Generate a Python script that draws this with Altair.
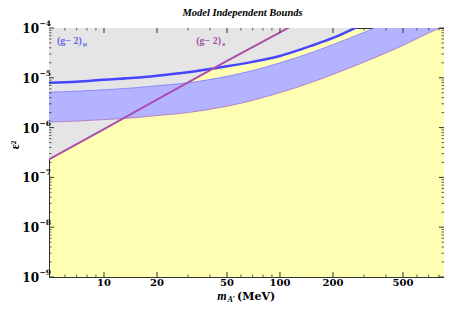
import altair as alt
import pandas as pd

# ---- data ----
m_grid = [4.87, 7, 10, 15, 20, 30, 50, 70, 100, 150, 200, 300, 400, 500, 700, 900]
band_lower = [1.29e-6, 1.35e-6, 1.45e-6, 1.58e-6, 1.74e-6, 2.00e-6, 2.69e-6, 3.52e-6,
              5.04e-6, 8.02e-6, 1.17e-5, 2.06e-5, 3.16e-5, 4.47e-5, 7.94e-5, 1.20e-4]
band_upper = [5.13e-6, 5.37e-6, 5.75e-6, 6.31e-6, 6.92e-6, 7.94e-6, 1.07e-5, 1.40e-5,
              2.00e-5, 3.19e-5, 4.65e-5, 8.18e-5, 1.26e-4, 1.78e-4, 3.16e-4, 4.79e-4]

mu_m = [4.87, 7, 10, 15, 20, 30, 50, 70, 100, 150, 200, 267, 300]
mu_bound = [7.94e-6, 8.32e-6, 9.12e-6, 1.00e-5, 1.10e-5, 1.29e-5, 1.70e-5, 2.09e-5,
            2.75e-5, 4.37e-5, 6.31e-5, 1.00e-4, 1.20e-4]

e_m = [4.87, 10, 20, 50, 100, 120]
e_bound = [2.29e-7, 9.33e-7, 3.63e-6, 2.19e-5, 8.13e-5, 1.17e-4]

y_top = 1e-4  # upper edge of the plotted range (excluded regions extend to it)

x_major = [10, 20, 50, 100, 200, 500]
x_major_labels = ["10", "20", "50", "100", "200", "500"]
x_minor = [6, 7, 8, 9, 30, 40, 60, 70, 80, 90, 300, 400, 600, 700, 800]
y_major = [1e-9, 1e-8, 1e-7, 1e-6, 1e-5, 1e-4]
y_major_exp = ["\u22129", "\u22128", "\u22127", "\u22126", "\u22125", "\u22124"]
y_minor = [k * 10.0 ** p for p in range(-9, -4) for k in range(2, 10)]

ann_m = [5.41, 33.4]
ann_e = [5.5e-5, 5.5e-5]
ann_main = ["(g\u2212 2)", "(g\u2212 2)"]
ann_sub = ["\u03bc", "e"]

# ---- chart ----
W, H = 395, 249
xs = alt.Scale(type="log", domain=[4.87, 855], nice=False)
ys = alt.Scale(type="log", domain=[1e-9, 1e-4], nice=False)


def X(f="m"):
    return alt.X(f"{f}:Q", scale=xs, axis=None)


def Y(f="e"):
    return alt.Y(f"{f}:Q", scale=ys, axis=None)


df_band = pd.DataFrame({"m": m_grid, "lo": band_lower, "hi": band_upper})
df_mu = pd.DataFrame({"m": mu_m, "e": mu_bound})
df_mu["top"] = y_top
df_e = pd.DataFrame({"m": e_m, "e": e_bound})
df_e["top"] = y_top
df_xmaj = pd.DataFrame({"m": x_major, "lab": x_major_labels})
df_xmin = pd.DataFrame({"m": x_minor})
df_ymaj = pd.DataFrame({"e": y_major, "exp": y_major_exp})
df_ymin = pd.DataFrame({"e": y_minor})
df_ann = pd.DataFrame({"m": ann_m, "e": ann_e, "main": ann_main, "sub": ann_sub})
one = pd.DataFrame({"a": [0]})

GRAY = "#e5e5e5"
gray_mu = alt.Chart(df_mu).mark_area(color=GRAY, opacity=1, clip=True, interpolate="monotone").encode(
    x=X(), y=Y(), y2="top:Q")
gray_e = alt.Chart(df_e).mark_area(color=GRAY, opacity=1, clip=True).encode(
    x=X(), y=Y(), y2="top:Q")
band = alt.Chart(df_band).mark_area(color="#b3b3ff", opacity=1, clip=True, interpolate="monotone").encode(
    x=X(), y=Y("lo"), y2="hi:Q")
band_hi = alt.Chart(df_band).mark_line(color="#7b7bff", strokeWidth=0.8, clip=True, interpolate="monotone").encode(
    x=X(), y=Y("hi"))
band_lo = alt.Chart(df_band).mark_line(color="#b070c0", strokeWidth=0.8, clip=True, interpolate="monotone").encode(
    x=X(), y=Y("lo"))
mu_line = alt.Chart(df_mu).mark_line(color="#4646ff", strokeWidth=2.5, clip=True, interpolate="monotone").encode(
    x=X(), y=Y())
e_line = alt.Chart(df_e).mark_line(color="#aa4faa", strokeWidth=2, clip=True).encode(
    x=X(), y=Y())

TC = "#333333"
ticks = [
    alt.Chart(df_xmaj).mark_rule(color=TC, strokeWidth=1).encode(x=X(), y=alt.value(H), y2=alt.value(H - 5)),
    alt.Chart(df_xmaj).mark_rule(color=TC, strokeWidth=1).encode(x=X(), y=alt.value(0), y2=alt.value(5)),
    alt.Chart(df_xmin).mark_rule(color=TC, strokeWidth=0.8).encode(x=X(), y=alt.value(H), y2=alt.value(H - 2.5)),
    alt.Chart(df_xmin).mark_rule(color=TC, strokeWidth=0.8).encode(x=X(), y=alt.value(0), y2=alt.value(2.5)),
    alt.Chart(df_ymaj).mark_rule(color=TC, strokeWidth=1).encode(y=Y(), x=alt.value(0), x2=alt.value(5)),
    alt.Chart(df_ymaj).mark_rule(color=TC, strokeWidth=1).encode(y=Y(), x=alt.value(W), x2=alt.value(W - 5)),
    alt.Chart(df_ymin).mark_rule(color=TC, strokeWidth=0.8).encode(y=Y(), x=alt.value(0), x2=alt.value(2.5)),
    alt.Chart(df_ymin).mark_rule(color=TC, strokeWidth=0.8).encode(y=Y(), x=alt.value(W), x2=alt.value(W - 2.5)),
]

LF = "DejaVu Serif"
x_labels = alt.Chart(df_xmaj).mark_text(font=LF, fontWeight="bold", fontSize=10, align="center",
                                        baseline="middle", color="black").encode(
    x=X(), y=alt.value(H + 6), text="lab:N")
y_lab10 = alt.Chart(df_ymaj).mark_text(font=LF, fontWeight="bold", fontSize=12, align="right",
                                       baseline="middle", dy=1, color="black").encode(
    x=alt.value(-10), y=Y(), text=alt.value("10"))
y_labexp = alt.Chart(df_ymaj).mark_text(font=LF, fontWeight="bold", fontSize=7.5, align="left",
                                        baseline="middle", dy=-4, color="black").encode(
    x=alt.value(-9.5), y=Y(), text="exp:N")

AF = "Liberation Serif"
ann_mu = alt.Chart(df_ann.iloc[[0]]).mark_text(font=AF, fontWeight="bold", fontSize=10, align="left",
                                               baseline="middle", color="#6565f0").encode(
    x=X(), y=Y(), text="main:N")
ann_mu_s = alt.Chart(df_ann.iloc[[0]]).mark_text(font=AF, fontWeight="bold", fontSize=7, align="left",
                                                 baseline="middle", dx=26, dy=3, color="#6565f0").encode(
    x=X(), y=Y(), text="sub:N")
ann_e = alt.Chart(df_ann.iloc[[1]]).mark_text(font=AF, fontWeight="bold", fontSize=10, align="left",
                                              baseline="middle", color="#a050a8").encode(
    x=X(), y=Y(), text="main:N")
ann_e_s = alt.Chart(df_ann.iloc[[1]]).mark_text(font=AF, fontWeight="bold", fontSize=7, align="left",
                                                baseline="middle", dx=26, dy=3, color="#a050a8").encode(
    x=X(), y=Y(), text="sub:N")

title = alt.Chart(one).mark_text(font=AF, fontWeight="bold", fontStyle="italic", fontSize=10.5,
                                 align="center", baseline="middle", color="black").encode(
    x=alt.value(W / 2 - 4), y=alt.value(-15.5), text=alt.value("Model Independent Bounds"))
xt_m = alt.Chart(one).mark_text(font=AF, fontWeight="bold", fontStyle="italic", fontSize=12,
                                align="center", baseline="middle", color="black").encode(
    x=alt.value(173), y=alt.value(268), text=alt.value("m"))
xt_A = alt.Chart(one).mark_text(font=AF, fontWeight="bold", fontStyle="italic", fontSize=8,
                                align="left", baseline="middle", color="black").encode(
    x=alt.value(178.5), y=alt.value(272), text=alt.value("A\u2032"))
xt_u = alt.Chart(one).mark_text(font=LF, fontWeight="bold", fontSize=11,
                                align="left", baseline="middle", color="black").encode(
    x=alt.value(188), y=alt.value(269), text=alt.value("(MeV)"))
yt = alt.Chart(one).mark_text(font=AF, fontWeight="bold", fontSize=12, angle=270,
                              align="center", baseline="middle", color="black").encode(
    x=alt.value(-34), y=alt.value(117), text=alt.value("\u03b5\u00b2"))

chart = alt.layer(
    gray_mu, gray_e, band, band_hi, band_lo, mu_line, e_line,
    *ticks, x_labels, y_lab10, y_labexp,
    ann_mu, ann_mu_s, ann_e, ann_e_s, title, xt_m, xt_A, xt_u, yt,
).properties(
    width=W, height=H,
    background="white",
    padding={"left": 41, "top": 20, "right": 0, "bottom": 26},
    autosize=alt.AutoSizeParams(type="none"),
).configure_view(
    fill="#ffffb3", stroke="#333333", strokeWidth=1
)

chart.save("out.html", embed_options={"renderer": "svg", "actions": False})
